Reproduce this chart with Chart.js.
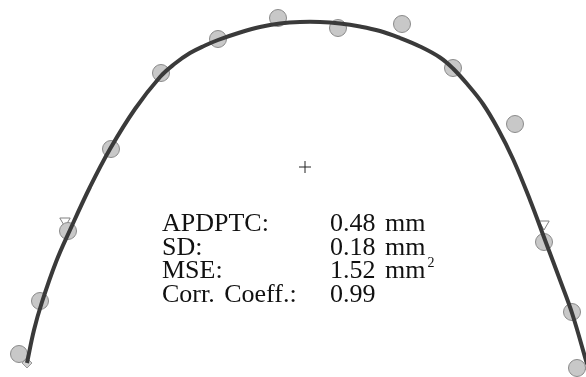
<!DOCTYPE html>
<html>
<head>
<meta charset="utf-8">
<script src="https://cdn.jsdelivr.net/npm/chart.js@4.4.0/dist/chart.umd.min.js"></script>
<style>
  html, body { margin: 0; padding: 0; background: #fff; }
  #wrap { position: relative; width: 586px; height: 377px; }
  #stats {
    position: absolute; left: 162px; top: 211px;
    font-family: "Liberation Serif", "Times New Roman", serif;
    font-size: 26px; line-height: 23.7px; color: #111;
    word-spacing: 3px;
  }
  #stats .row { white-space: nowrap; height: 23.7px; }
  #stats .lbl { display: inline-block; width: 168px; }
  #stats sup { font-size: 14px; line-height: 0; vertical-align: 0; position: relative; top: -11px; margin-left: 2px; }
</style>
</head>
<body>
<div id="wrap">
  <canvas id="arch" width="586" height="377"></canvas>
  <div id="stats"></div>
</div>
<script>
// measured points (units ~ mm, origin at the centre mark)
const measX = [-28.6, -26.5, -23.7, -19.4, -14.4, -8.7, -2.7, 3.3, 9.7, 14.8, 21.0, 23.9, 26.7, 27.2];
const measY = [-18.7, -13.4, -6.4, 1.8, 9.4, 12.8, 14.9, 13.9, 14.3, 9.9, 4.3, -7.5, -14.5, -20.1];

// fitted curve
const fitX = [-27.8, -27.1, -26.3, -24.9, -23.5, -21.5, -19.5, -17.0, -14.5, -13.0, -11.5, -10.0, -8.7, -6.5, -4.5, -2.5, -0.5,
              1.5, 3.5, 5.5, 7.5, 9.5, 11.5, 13.5, 14.8, 16.3, 17.8, 19.3, 20.8, 22.5, 24.0, 25.5, 26.7, 28.2];
const fitY = [-19.6, -16.3, -13.5, -9.5, -6.3, -2.0, 1.8, 5.8, 9.0, 10.35, 11.4, 12.15, 12.7, 13.45, 14.0, 14.35, 14.5,
              14.5, 14.35, 14.05, 13.6, 12.9, 12.05, 10.95, 9.85, 8.2, 6.3, 3.8, 0.8, -3.3, -7.3, -11.3, -14.6, -19.7];

// reference landmarks
const triX = [-24.0, 23.9];
const triY = [-5.4, -5.7];
const endX = [-27.8, 28.3];
const endY = [-19.6, -20.0];
const centreX = [0];
const centreY = [0];

const statLabels = ['APDPTC:', 'SD:', 'MSE:', 'Corr. Coeff.:'];
const statValues = ['0.48 mm', '0.18 mm', '1.52 mm<sup>2</sup>', '0.99'];

const pts = (xs, ys) => xs.map((x, i) => ({ x: x, y: ys[i] }));

const stats = document.getElementById('stats');
statLabels.forEach((l, i) => {
  const row = document.createElement('div');
  row.className = 'row';
  row.innerHTML = `<span class="lbl">${l}</span><span>${statValues[i]}</span>`;
  stats.appendChild(row);
});

new Chart(document.getElementById('arch').getContext('2d'), {
  type: 'scatter',
  data: {
    datasets: [
      {
        label: 'fit',
        data: pts(fitX, fitY),
        showLine: true,
        borderColor: '#3a3a3a',
        borderWidth: 4,
        pointRadius: 0,
        tension: 0.4,
        order: 0
      },
      {
        label: 'centre',
        data: pts(centreX, centreY),
        pointStyle: 'cross',
        pointRadius: 6,
        borderColor: '#222',
        borderWidth: 1,
        order: 1
      },
      {
        label: 'measured',
        data: pts(measX, measY),
        pointRadius: 8.5,
        backgroundColor: '#c8c8c8',
        borderColor: '#8a8a8a',
        borderWidth: 1,
        order: 2
      },
      {
        label: 'landmarks',
        data: pts(triX, triY),
        pointStyle: 'triangle',
        rotation: 180,
        pointRadius: 6,
        backgroundColor: 'rgba(255,255,255,0)',
        borderColor: '#808080',
        borderWidth: 1,
        order: 3
      },
      {
        label: 'ends',
        data: pts(endX, endY),
        pointStyle: 'rectRot',
        pointRadius: 5,
        backgroundColor: '#d0d0d0',
        borderColor: '#9a9a9a',
        borderWidth: 1,
        order: 4
      }
    ]
  },
  options: {
    responsive: false,
    animation: false,
    layout: { padding: 0, autoPadding: false },
    plugins: { legend: { display: false }, tooltip: { enabled: false } },
    scales: {
      x: { type: 'linear', min: -30.5, max: 28.1, display: false },
      y: { type: 'linear', min: -21.0, max: 16.7, display: false }
    }
  }
});
</script>
</body>
</html>
